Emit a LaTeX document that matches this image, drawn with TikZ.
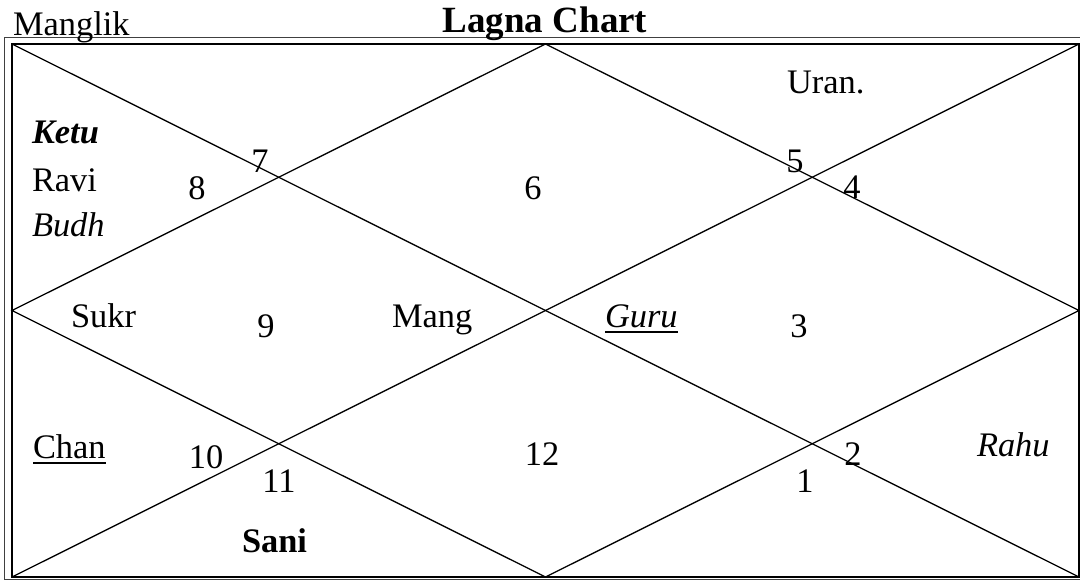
\documentclass[tikz,border=0pt]{standalone}
\usepackage{fontspec}
\setmainfont{Liberation Serif}
\newcommand\myul[1]{\setbox0\hbox{#1}\rlap{\rule[-5.5pt]{\wd0}{1.6pt}}\box0}
\begin{document}
\begin{tikzpicture}[x=1pt,y=-1pt,
  lbl/.style={font=\fontsize{34.4}{41}\selectfont, inner sep=0pt, outer sep=0pt},
  ttl/.style={font=\fontsize{37}{44}\selectfont\bfseries, inner sep=0pt, outer sep=0pt},
  lw/.style={anchor=base west},
  lc/.style={anchor=base},
  frame/.style={draw=black, line width=1.3pt},
  oframe/.style={draw=black!75, line width=0.9pt},
  chartline/.style={draw=black, line width=1.3pt}]
\useasboundingbox (0,0) rectangle (1080,582);
\fill[white] (0,0) rectangle (1080,582);
% frames
\draw[oframe] (4.5,37) rectangle (1095,579);
\coordinate (tl) at (12,44);
\coordinate (tr) at (1079,44);
\coordinate (br) at (1079,577);
\coordinate (bl) at (12,577);
\coordinate (tm) at (545.5,44);
\coordinate (rm) at (1079,310.5);
\coordinate (bm) at (545.5,577);
\coordinate (lm) at (12,310.5);
\draw[frame] (tl) rectangle (br);
% diagonals
\draw[chartline] (tl) -- (br);
\draw[chartline] (tr) -- (bl);
% diamond
\draw[chartline] (tm) -- (rm) -- (bm) -- (lm) -- cycle;
% titles
\node[lbl,lw] (manglik) at (13,35.5) {Manglik};
\node[ttl,lc] (title) at (545,32) {Lagna Chart};
% house numbers
\node[lbl,lc] (h7) at (260,172) {7};
\node[lbl,lc] (h8) at (197,199) {8};
\node[lbl,lc] (h6) at (533,199) {6};
\node[lbl,lc] (h5) at (795,172) {5};
\node[lbl,lc] (h4) at (852,198) {4};
\node[lbl,lc] (h9) at (266,337) {9};
\node[lbl,lc] (h3) at (799,337) {3};
\node[lbl,lc] (h10) at (206,468) {10};
\node[lbl,lc] (h11) at (279,492) {11};
\node[lbl,lc] (h12) at (542,465) {12};
\node[lbl,lc] (h2) at (853,465) {2};
\node[lbl,lc] (h1) at (805,492) {1};
% planets
\node[lbl,lw] (ketu) at (32,143) {\textbf{\textit{Ketu}}};
\node[lbl,lw] (ravi) at (32,191) {Ravi};
\node[lbl,lw] (budh) at (32,236) {\textit{Budh}};
\node[lbl,lw] (uran) at (787,93) {Uran.};
\node[lbl,lw] (sukr) at (71,327) {Sukr};
\node[lbl,lw] (mang) at (392,327) {Mang};
\node[lbl,lw] (guru) at (605,327) {\myul{\textit{Guru}}};
\node[lbl,lw] (chan) at (33,458) {\myul{Chan}};
\node[lbl,lw] (rahu) at (977,456) {\textit{Rahu}};
\node[lbl,lw] (sani) at (242,552) {\textbf{Sani}};
\end{tikzpicture}
\end{document}
